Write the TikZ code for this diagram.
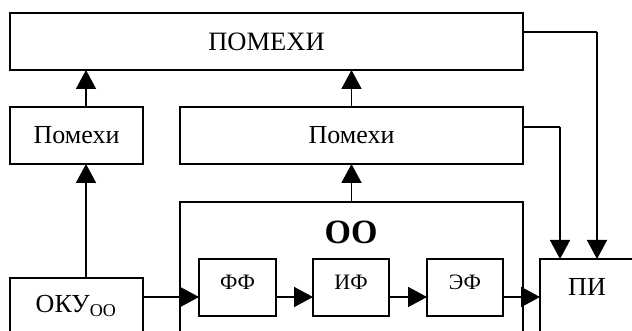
\documentclass[tikz,border=0pt]{standalone}
\usepackage{fontspec}
\setmainfont{Liberation Serif}
\usetikzlibrary{arrows.meta}
\tikzset{
  box/.style={draw, line width=1.7pt, inner sep=0pt, outer sep=0pt, anchor=north west},
  link/.style={line width=1.7pt},
  arr/.style={line width=1.7pt, -{Triangle[length=19pt,width=20pt]}},
  bigtxt/.style={font=\fontsize{26.5}{30}\selectfont},
  midtxt/.style={font=\fontsize{26}{30}\selectfont},
  smalltxt/.style={font=\fontsize{22}{26}\selectfont},
  titletxt/.style={font=\fontsize{34}{40}\selectfont\bfseries},
}
\begin{document}
\begin{tikzpicture}[x=1pt, y=-1pt]
  \useasboundingbox (0,0) rectangle (632,331);
  \clip (0,0) rectangle (632,331);

  % upper level
  \node[box, bigtxt, minimum width=513pt, minimum height=57pt] (top) at (10,13) {ПОМЕХИ};
  \node[box, midtxt, minimum width=133pt, minimum height=57pt] (lp) at (10,107) {Помехи};
  \node[box, midtxt, minimum width=343pt, minimum height=57pt] (mp) at (180,107) {Помехи};

  % object block with its inner stages
  \node[box, minimum width=343pt, minimum height=170pt] (oo) at (180,202) {};
  \node[titletxt] (ootitle) at (351,232) {ОО};
  \node[box, minimum width=77pt, minimum height=57pt] (ff) at (199,259) {};
  \node[box, minimum width=76pt, minimum height=57pt] (if) at (313,259) {};
  \node[box, minimum width=76pt, minimum height=57pt] (ef) at (427,259) {};
  \node[smalltxt] (fft) at ([yshift=5.5pt]ff.center) {ФФ};
  \node[smalltxt] (ift) at ([yshift=5.5pt]if.center) {ИФ};
  \node[smalltxt] (eft) at ([yshift=5.5pt]ef.center) {ЭФ};

  % source and receiver
  \node[box, minimum width=133pt, minimum height=80pt] (oku) at (10,278) {};
  \node[midtxt] (okut) at (76,306) {ОКУ\textsubscript{\fontsize{18}{20}\selectfont ОО}};
  \node[box, minimum width=120pt, minimum height=100pt] (pi) at (540,259) {};
  \node[midtxt] (pit) at (587,287) {ПИ};

  % helper positions
  \coordinate (row) at (0,297);
  \coordinate (colA) at (86,0);
  \coordinate (colB) at (560,0);
  \coordinate (colC) at (597,0);
  \coordinate (outA) at (0,32);
  \coordinate (outB) at (0,127);

  % vertical links upwards
  \draw[arr] (oku.north -| colA) -- (lp.south -| colA);
  \draw[arr] (lp.north -| colA) -- (top.south -| colA);
  \draw[arr] (oo.north -| mp.south) -- (mp.south);
  \draw[arr] (mp.north) -- (top.south -| mp.north);

  % main signal chain
  \draw[arr] (oku.east |- row) -- (ff.west |- row);
  \draw[arr] (ff.east |- row) -- (if.west |- row);
  \draw[arr] (if.east |- row) -- (ef.west |- row);
  \draw[arr] (ef.east |- row) -- (pi.west |- row);

  % interference feeds into the receiver
  \draw[link] (top.east |- outA) -- (colC |- outA);
  \draw[arr] (colC |- outA) -- (pi.north -| colC);
  \draw[link] (mp.east |- outB) -- (colB |- outB);
  \draw[arr] (colB |- outB) -- (pi.north -| colB);
\end{tikzpicture}
\end{document}
